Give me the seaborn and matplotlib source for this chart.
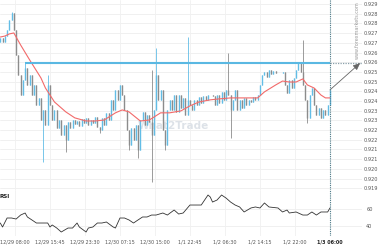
import numpy as np
import matplotlib
matplotlib.use("Agg")
import matplotlib.pyplot as plt
import seaborn as sns

# ---------------- data ----------------
first_open = 0.92705
closes = [
    0.92725, 0.92705, 0.92735, 0.92766, 0.92818, 0.92854, 0.92766, 0.92637, 0.92534, 0.92431,
    0.92509, 0.92570, 0.92483, 0.92534, 0.92431, 0.92483, 0.92380, 0.92416, 0.92302, 0.92354,
    0.92277, 0.92483, 0.92380, 0.92302, 0.92354, 0.92261, 0.92302, 0.92225, 0.92277, 0.92199,
    0.92292, 0.92261, 0.92302, 0.92282, 0.92297, 0.92271, 0.92308, 0.92287, 0.92313, 0.92277,
    0.92302, 0.92287, 0.92318, 0.92266, 0.92251, 0.92313, 0.92277, 0.92339, 0.92302, 0.92406,
    0.92354, 0.92457, 0.92406, 0.92483, 0.92431, 0.92354, 0.92251, 0.92174, 0.92261, 0.92199,
    0.92277, 0.92148, 0.92302, 0.92344, 0.92277, 0.92328, 0.92292, 0.92225, 0.92354, 0.92534,
    0.92406, 0.92457, 0.92251, 0.92174, 0.92354, 0.92406, 0.92354, 0.92431, 0.92344, 0.92431,
    0.92364, 0.92416, 0.92328, 0.92406, 0.92380, 0.92354, 0.92406, 0.92380, 0.92421, 0.92390,
    0.92426, 0.92406, 0.92431, 0.92431, 0.92426, 0.92380, 0.92431, 0.92390, 0.92447, 0.92406,
    0.92457, 0.92431, 0.92354, 0.92406, 0.92457, 0.92354, 0.92406, 0.92364, 0.92416, 0.92380,
    0.92406, 0.92395, 0.92421, 0.92406, 0.92431, 0.92483, 0.92534, 0.92550, 0.92524, 0.92560,
    0.92540, 0.92555, 0.92545, 0.92545, 0.92545, 0.92550, 0.92483, 0.92442, 0.92509, 0.92467,
    0.92519, 0.92560, 0.92601, 0.92550, 0.92483, 0.92406, 0.92313, 0.92431, 0.92467, 0.92380,
    0.92328, 0.92364, 0.92313, 0.92354, 0.92328, 0.92380, 0.92457,
]
wick_high_idx = [5, 11, 21, 67, 69, 83, 101, 134]
wick_high_val = [0.92859, 0.92596, 0.92534, 0.92560, 0.92674, 0.92730, 0.92648, 0.92715]
wick_low_idx = [19, 29, 44, 57, 61, 67, 73, 102, 136]
wick_low_val = [0.92086, 0.92137, 0.92235, 0.92148, 0.92106, 0.91983, 0.92148, 0.92210, 0.92287]

ma_idx = [0, 2, 4, 6, 9, 13, 18, 20, 24, 29, 33, 38, 42, 46, 51, 54, 57, 62, 66, 71, 75, 80,
          84, 88, 93, 97, 102, 106, 114, 117, 122, 125, 128, 131, 134, 136, 139, 142, 144, 146]
ma_val = [0.92730, 0.92735, 0.92746, 0.92751, 0.92689, 0.92612, 0.92519, 0.92467, 0.92395,
          0.92344, 0.92313, 0.92297, 0.92297, 0.92302, 0.92339, 0.92354, 0.92344, 0.92297,
          0.92302, 0.92339, 0.92339, 0.92349, 0.92375, 0.92395, 0.92406, 0.92411, 0.92416,
          0.92416, 0.92416, 0.92447, 0.92483, 0.92503, 0.92498, 0.92498, 0.92514, 0.92483,
          0.92467, 0.92431, 0.92416, 0.92416]

rsi_idx = [0, 1, 3, 5, 7, 9, 11, 12, 14, 16, 21, 22, 23, 25, 27, 30, 32, 34, 35, 38, 39, 41,
           43, 45, 47, 50, 51, 53, 55, 57, 59, 61, 63, 65, 67, 69, 72, 74, 77, 79, 81, 84, 87,
           89, 92, 93, 94, 96, 98, 100, 102, 104, 106, 108, 111, 113, 115, 117, 119, 123, 125,
           127, 128, 131, 134, 136, 138, 140, 142, 145, 146]
rsi_val = [43.5, 38.8, 49.4, 49.4, 48.2, 52.9, 55.3, 50.6, 47.1, 43.5, 43.5, 38.8, 41.2, 37.6,
           32.9, 37.6, 37.6, 43.5, 38.8, 32.9, 37.6, 38.8, 43.5, 43.5, 44.7, 38.8, 37.6, 49.4,
           49.4, 47.1, 43.5, 47.1, 50.6, 50.6, 52.9, 52.9, 55.3, 52.9, 58.8, 54.1, 55.3, 64.7,
           64.7, 64.7, 76.5, 74.1, 68.2, 70.6, 76.5, 72.9, 68.2, 64.7, 62.4, 56.5, 61.2, 62.4,
           61.2, 67.1, 62.4, 61.2, 56.5, 58.8, 55.3, 56.5, 52.9, 52.9, 56.5, 52.9, 56.5, 56.5, 61.2]

resistance = 0.92596
resistance_start = 11

price_ticks = [0.9195, 0.9200, 0.9205, 0.9210, 0.9215, 0.9220, 0.9225, 0.9230, 0.9235, 0.9240,
               0.9245, 0.9250, 0.9255, 0.9260, 0.9265, 0.9270, 0.9275, 0.9280, 0.9285, 0.9290]
price_labels = ["0.919", "0.920", "0.920", "0.921", "0.921", "0.922", "0.922", "0.923", "0.923",
                "0.924", "0.924", "0.925", "0.925", "0.926", "0.926", "0.927", "0.927", "0.928",
                "0.928", "0.929"]
rsi_ticks = [40, 60]
x_labels = ["12/29 08:00", "12/29 15:45", "12/29 23:30", "12/30 07:15", "12/30 15:00",
            "1/1 22:45", "1/2 06:30", "1/2 14:15", "1/2 22:00", "1/3 06:00"]
bars_per_label = 15.5

# ---------------- figure ----------------
sns.set_theme(style="white")
plt.rcParams['font.family'] = ['DejaVu Sans']

W, H = 380, 250
fig = plt.figure(figsize=(W / 100, H / 100), dpi=100)
ax = fig.add_axes([0, 60 / H, 362 / W, 190 / H])
axr = fig.add_axes([0, 14 / H, 362 / W, 46 / H], sharex=ax)

n = len(closes)
idx = np.arange(n)
opens = np.array([first_open] + closes[:-1])
cl = np.array(closes)
highs = np.maximum(opens, cl)
lows = np.minimum(opens, cl)
for i, v in zip(wick_high_idx, wick_high_val):
    highs[i] = v
for i, v in zip(wick_low_idx, wick_low_val):
    lows[i] = v
up = cl >= opens
blue = "#62bde6"
gray = "#8c8c8c"
cols = np.where(up, blue, gray)

for a in (ax, axr):
    a.set_xlim(-0.13, 160.2)
    for s in a.spines.values():
        s.set_visible(False)

ax.set_ylim(0.91941, 0.92921)
axr.set_ylim(28.2, 82.4)

# grid
xt = [n - 1 - (len(x_labels) - 1 - k) * bars_per_label for k in range(len(x_labels))]
for t in price_ticks:
    ax.axhline(t, color="#eeeeee", lw=0.6, zorder=0)
for t in rsi_ticks:
    axr.axhline(t, color="#eeeeee", lw=0.6, zorder=0)
for t in xt:
    ax.axvline(t, color="#f0f0f0", lw=0.6, zorder=0)
    axr.axvline(t, color="#f0f0f0", lw=0.6, zorder=0)

# watermark
ax.text(76.5, 0.92271, "What2Trade", fontsize=7.5, fontweight="bold", color="#dde2e8",
        ha="center", va="center", zorder=0.5)

# candles
ax.vlines(idx, lows, highs, colors=cols, lw=0.6, zorder=2)
ax.vlines(idx, opens, cl, colors=cols, lw=1.0, zorder=2)

# moving average
sns.lineplot(x=ma_idx, y=ma_val, ax=ax, color="#f26a6a", lw=0.8, zorder=3)

# resistance line
ax.plot([resistance_start, n - 1], [resistance, resistance], color="#5ab8e2", lw=1.5, zorder=4,
        solid_capstyle="butt")
ax.plot([n - 1, 160.2], [resistance, resistance], color="#8aa0aa", lw=0.9, ls=(0, (1, 1)),
        zorder=4, clip_on=False)
ax.annotate("", xy=(159.4, resistance), xytext=(n - 1, closes[-1]),
            arrowprops=dict(arrowstyle="-|>,head_length=0.35,head_width=0.15", color="#666666",
                            lw=0.6, shrinkA=0, shrinkB=0), zorder=5, annotation_clip=False)

# vertical dotted line for last bar
for a in (ax, axr):
    a.axvline(n - 1, color="#4e7d8b", lw=0.8, ls=(0, (1, 1)), zorder=5)

# RSI
sns.lineplot(x=rsi_idx, y=rsi_val, ax=axr, color="#333333", lw=0.6)
axr.text(-0.002, 0.85, "RSI", transform=axr.transAxes, fontsize=4, fontweight="bold",
         color="#222222", ha="left", va="center")

# ticks
ax.yaxis.tick_right()
ax.set_yticks(price_ticks)
ax.set_yticklabels(price_labels)
ax.tick_params(axis="y", length=0, pad=1.5, labelsize=3.6, labelcolor="#555555")
ax.tick_params(axis="x", bottom=False, labelbottom=False, length=0)
ax.set_xlabel("")
ax.set_ylabel("")

axr.yaxis.tick_right()
axr.set_yticks(rsi_ticks)
axr.set_yticklabels([str(t) for t in rsi_ticks])
axr.tick_params(axis="y", length=0, pad=3, labelsize=3.6, labelcolor="#555555")
axr.set_xticks(xt)
axr.set_xticklabels(x_labels)
axr.tick_params(axis="x", length=0, pad=2.5, labelsize=3.5, labelcolor="#555555")
axr.get_xticklabels()[-1].set_fontweight("bold")
axr.get_xticklabels()[-1].set_color("#222222")
axr.set_xlabel("")
axr.set_ylabel("")

fig.text(357 / W, 1 - 30 / H, "www.forexmarkets.com", rotation=90, fontsize=3.5,
         color="#9a9a9a", ha="center", va="center")

fig.savefig("out.png", dpi=100)
